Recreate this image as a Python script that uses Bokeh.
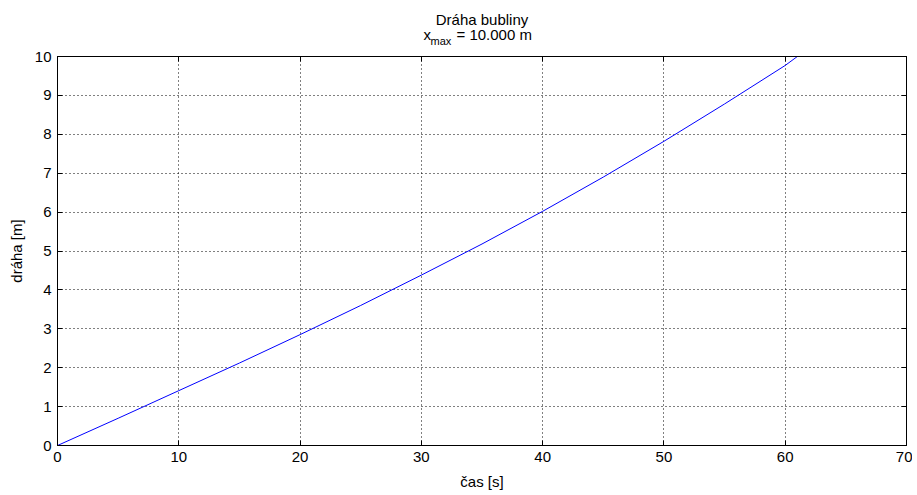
from bokeh.plotting import figure
from bokeh.models import LinearAxis, Range1d, FixedTicker, CustomJSTickFormatter
from bokeh.layouts import column
from bokeh.core.properties import value
from bokeh.embed import file_html
from bokeh.resources import INLINE

# data
t_s = [0, 5, 10, 15, 20, 25, 30, 35, 40, 45, 50, 55, 60, 61.0]
draha_m = [0, 0.70, 1.41, 2.12, 2.85, 3.60, 4.38, 5.18, 6.02, 6.90, 7.82, 8.78, 9.77, 10.0]
x_ticks = [0, 10, 20, 30, 40, 50, 60, 70]
y_ticks = [0, 1, 2, 3, 4, 5, 6, 7, 8, 9, 10]
title_line1 = "Dráha bubliny"
title_sym = "x"
title_sub = "max"
title_rest = "= 10.000 m"
x_label = "čas [s]"
y_label = "dráha [m]"

FONT = "Liberation Sans"
FS = "15px"
W = 912
TOP_H = 46
BORDER_L = 57
BORDER_R = W - 906
BOTTOM = 47

# ---- title strip (pixel coordinates) ----
t = figure(width=W, height=TOP_H, output_backend="svg", toolbar_location=None,
           x_range=Range1d(BORDER_L, 906), y_range=Range1d(TOP_H, 0),
           min_border_left=BORDER_L, min_border_right=BORDER_R,
           min_border_top=0, min_border_bottom=0)
t.axis.visible = False
t.grid.visible = False
t.outline_line_color = None
t.background_fill_color = "white"
t.border_fill_color = "white"
t.text(x=[481.5], y=[19], text=[title_line1], text_align="center",
       text_baseline="alphabetic", text_font=value(FONT), text_font_size=FS, text_color="black")
t.text(x=[423], y=[33.5], text=[title_sym], text_align="left",
       text_baseline="alphabetic", text_font=value(FONT), text_font_size=FS, text_color="black")
t.text(x=[430], y=[40.5], text=[title_sub], text_align="left",
       text_baseline="alphabetic", text_font=value(FONT), text_font_size="11px", text_color="black")
t.text(x=[456], y=[33.5], text=[title_rest], text_align="left",
       text_baseline="alphabetic", text_font=value(FONT), text_font_size=FS, text_color="black")

# ---- main plot ----
p = figure(width=W, height=445 - TOP_H + BOTTOM, output_backend="svg", toolbar_location=None,
           x_range=Range1d(0, 70), y_range=Range1d(0, 10),
           min_border_left=BORDER_L, min_border_right=BORDER_R,
           min_border_top=56 - TOP_H, min_border_bottom=BOTTOM)
p.background_fill_color = "white"
p.border_fill_color = "white"
p.outline_line_color = "black"
p.outline_line_width = 1

p.line(t_s, draha_m, line_color="#0000ff", line_width=1)

for ax in (p.xaxis[0], p.yaxis[0]):
    ax.major_tick_in = 5
    ax.major_tick_out = 0
    ax.minor_tick_in = 0
    ax.minor_tick_out = 0
    ax.axis_line_color = "black"
    ax.major_tick_line_color = "black"
    ax.major_label_text_font = FONT
    ax.major_label_text_font_size = FS
    ax.major_label_text_color = "#000000"
    ax.axis_label_text_font = FONT
    ax.axis_label_text_font_size = FS
    ax.axis_label_text_font_style = "normal"
    ax.axis_label_text_color = "#000000"

p.xaxis[0].ticker = FixedTicker(ticks=x_ticks)
p.yaxis[0].ticker = FixedTicker(ticks=y_ticks)
p.xaxis[0].axis_label = x_label
p.yaxis[0].axis_label = y_label
p.xaxis[0].major_label_standoff = 6
p.yaxis[0].major_label_standoff = 6
p.xaxis[0].axis_label_standoff = 8
p.yaxis[0].axis_label_standoff = 7

# mirror axes (box on)
blank = CustomJSTickFormatter(code="return ''")
for loc, tk in (("right", y_ticks), ("above", x_ticks)):
    a = LinearAxis(ticker=FixedTicker(ticks=tk), formatter=blank,
                   major_tick_in=5, major_tick_out=0,
                   minor_tick_in=0, minor_tick_out=0,
                   major_label_standoff=0, axis_line_color="black",
                   major_tick_line_color="black")
    p.add_layout(a, loc)

p.grid.grid_line_color = "#000000"
p.grid.grid_line_dash = "1 3"
p.grid.grid_line_width = 1
p.xgrid.ticker = FixedTicker(ticks=x_ticks)
p.ygrid.ticker = FixedTicker(ticks=y_ticks)

layout = column(t, p, spacing=0)
open("out.html", "w").write(file_html(layout, INLINE))
